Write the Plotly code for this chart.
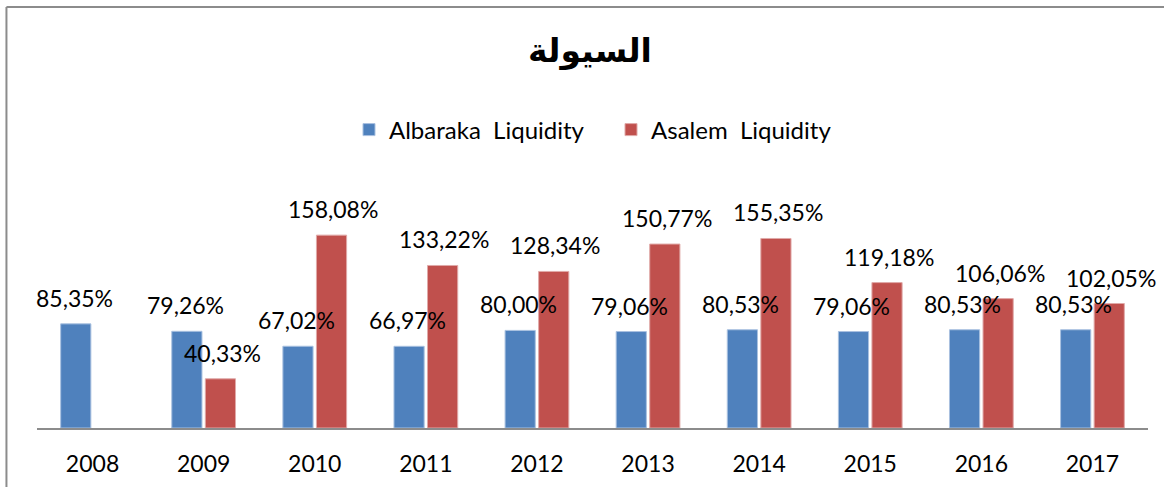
import plotly.graph_objects as go

years = [2008, 2009, 2010, 2011, 2012, 2013, 2014, 2015, 2016, 2017]
year_labels = ["2008", "2009", "2010", "2011", "2012", "2013", "2014", "2015", "2016", "2017"]
albaraka = [85.35, 79.26, 67.02, 66.97, 80.00, 79.06, 80.53, 79.06, 80.53, 80.53]
asalem = [None, 40.33, 158.08, 133.22, 128.34, 150.77, 155.35, 119.18, 106.06, 102.05]
series_names = ["Albaraka\u00a0 Liquidity", "Asalem\u00a0 Liquidity"]
title_text = "السيولة"

BLUE = "#4F81BD"
RED = "#C0504D"
FONT = "Lato"


def fmt(v):
    return f"{v:.2f}".replace(".", ",") + "%"


fig = go.Figure()
fig.add_trace(go.Bar(x=years, y=albaraka, name=series_names[0],
                     marker=dict(color=BLUE, line=dict(color="#A9C1E0", width=1))))
fig.add_trace(go.Bar(x=years, y=asalem, name=series_names[1],
                     marker=dict(color=RED, line=dict(color="#E0A9A8", width=1))))

annotations = []
for vals, shift in ((albaraka, -18.5), (asalem, 18.5)):
    for yr, v in zip(years, vals):
        if v is None:
            continue
        annotations.append(dict(x=yr, y=v, xref="x", yref="y", text=fmt(v),
                                showarrow=False, xshift=shift, yshift=26,
                                yanchor="middle", xanchor="center",
                                font=dict(family=FONT, size=23, color="black")))

# chart frame (left and top edges visible)
shapes = [
    dict(type="line", xref="paper", yref="paper", x0=-0.0275, x1=-0.0275,
         y0=-0.3, y1=1.7254, line=dict(color="#8c8c8c", width=2)),
    dict(type="line", xref="paper", yref="paper", x0=-0.0275, x1=1.03,
         y0=1.7254, y1=1.7254, line=dict(color="#8c8c8c", width=2)),
]

fig.update_layout(
    width=1164, height=487,
    margin=dict(l=37, r=16, t=184, b=59, autoexpand=False),
    paper_bgcolor="white", plot_bgcolor="white",
    barmode="group", bargap=0.396, bargroupgap=0.1,
    title=dict(text=f"<b>{title_text}</b>", x=590 / 1164, xanchor="center",
               y=1 - 50 / 487, yanchor="middle",
               font=dict(family="DejaVu Sans", size=33, color="black")),
    legend=dict(orientation="h", x=(611 - 37) / 1111, xanchor="center",
                y=(428 - 130) / 244, yanchor="middle", entrywidth=217,
                entrywidthmode="pixels",
                font=dict(family=FONT, size=24, color="black"),
                bgcolor="rgba(0,0,0,0)"),
    xaxis=dict(type="linear", range=[2007.5, 2017.5], tickvals=years,
               ticktext=year_labels, showline=True, linecolor="#8c8c8c",
               linewidth=2, ticks="",
               tickfont=dict(family=FONT, size=23, color="black"),
               ticklabelstandoff=14, showgrid=False, zeroline=False,
               automargin=False),
    yaxis=dict(range=[0, 200], visible=False, showgrid=False, zeroline=False,
               automargin=False),
    annotations=annotations,
    shapes=shapes,
    showlegend=True,
)

fig.write_html("out.html", config={"displayModeBar": False},
               post_script="document.body.style.margin='0';document.body.style.padding='0';")
